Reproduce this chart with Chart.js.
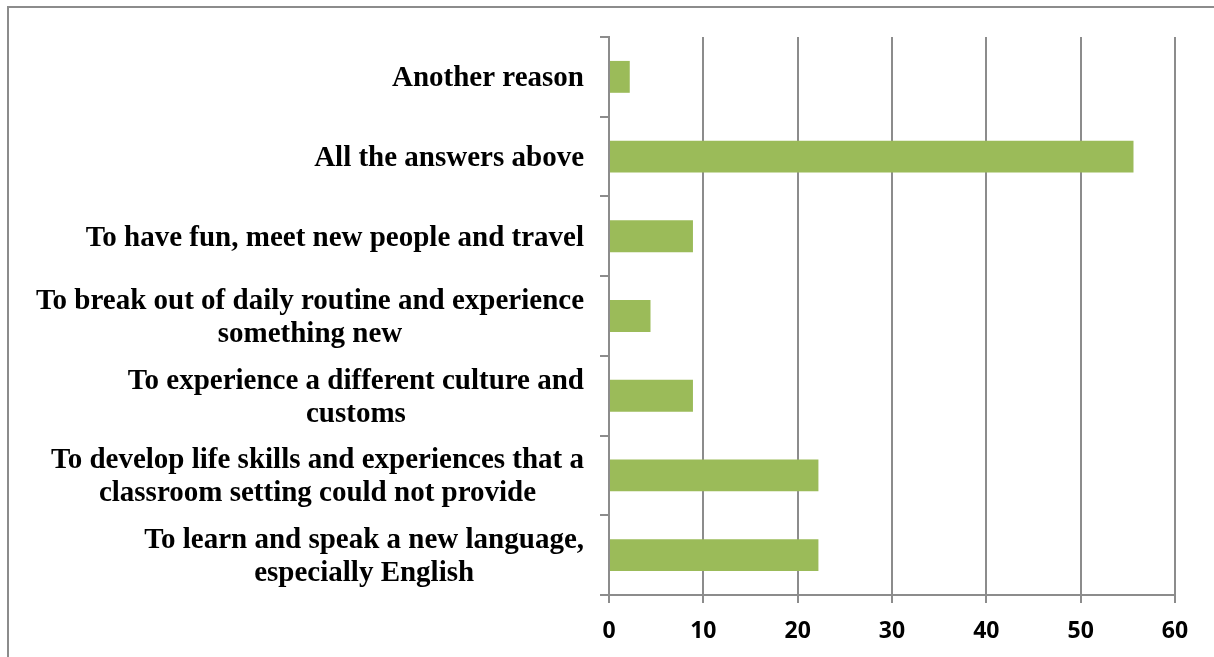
<!DOCTYPE html>
<html>
<head>
<meta charset="utf-8">
<script src="https://cdn.jsdelivr.net/npm/chart.js@4/dist/chart.umd.min.js"></script>
<style>
  html, body { margin: 0; padding: 0; background: #fff; overflow: hidden; }
  #frame {
    position: absolute; left: 7px; top: 6px; width: 1300px; height: 800px;
    border-left: 2px solid #8c8c8c; border-top: 2px solid #8c8c8c;
  }
  #chart-1 { position: absolute; left: 0; top: 0; }
</style>
</head>
<body>
<div id="frame"></div>
<canvas id="chart-1" width="1214" height="657"></canvas>
<script>
const categories = [
  ['Another reason'],
  ['All the answers above'],
  ['To have fun, meet new people and travel'],
  ['To break out of daily routine and experience', 'something new'],
  ['To experience a different culture and', 'customs'],
  ['To develop life skills and experiences that a', 'classroom setting could not provide'],
  ['To learn and speak a new language,', 'especially English']
];
const percents = [2.2, 55.6, 8.9, 4.4, 8.9, 22.2, 22.2];
const xTicks = [0, 10, 20, 30, 40, 50, 60];

const gridGray = '#8c8c8c';

// category names: each block right-aligned to the axis, lines centred within it
const categoryLabels = {
  id: 'categoryLabels',
  afterDraw(chart) {
    const ctx = chart.ctx;
    const yScale = chart.scales.y;
    const right = 584;
    const lineHeight = 33;
    ctx.save();
    ctx.font = 'bold 29px "Liberation Serif", "Times New Roman", serif';
    ctx.fillStyle = '#000';
    ctx.textAlign = 'center';
    ctx.textBaseline = 'middle';
    categories.forEach((lines, i) => {
      const cy = yScale.getPixelForValue(i) + 2;
      const w = Math.max(...lines.map(l => ctx.measureText(l).width));
      const cx = right - w / 2;
      const y0 = cy - (lines.length - 1) * lineHeight / 2;
      lines.forEach((l, j) => ctx.fillText(l, cx, y0 + j * lineHeight));
    });
    ctx.restore();
  }
};

const ctx1 = document.getElementById('chart-1');

new Chart(ctx1, {
  type: 'bar',
  data: {
    labels: categories,
    datasets: [{
      data: percents,
      backgroundColor: '#9bbb59',
      borderWidth: 0,
      barPercentage: 0.4,
      categoryPercentage: 1
    }]
  },
  options: {
    indexAxis: 'y',
    responsive: false,
    animation: false,
    devicePixelRatio: 1,
    layout: { padding: { top: 37, right: 39, left: 0, bottom: 0 } },
    plugins: {
      legend: { display: false },
      tooltip: { enabled: false }
    },
    scales: {
      x: {
        min: 0,
        max: 60,
        afterBuildTicks: s => { s.ticks = xTicks.map(v => ({ value: v })); },
        afterFit: s => { s.height = 62; },
        grid: { color: gridGray, lineWidth: 2, tickLength: 8 },
        border: { color: gridGray, width: 2 },
        ticks: {
          color: '#000',
          padding: 15,
          font: { family: '"Open Sans", sans-serif', size: 23, weight: 'bold' }
        }
      },
      y: {
        afterFit: s => { s.width = 609; },
        grid: {
          offset: true,
          drawOnChartArea: false,
          color: gridGray,
          lineWidth: 2,
          tickLength: 9
        },
        border: { color: gridGray, width: 2 },
        ticks: { display: false }
      }
    }
  },
  plugins: [categoryLabels]
});
</script>
</body>
</html>
